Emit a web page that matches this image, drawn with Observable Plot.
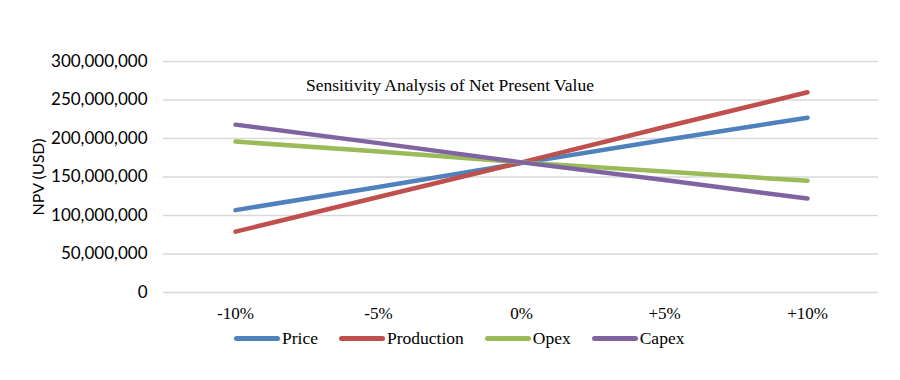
<!DOCTYPE html>
<html>
<head>
<meta charset="utf-8">
<script src="https://cdn.jsdelivr.net/npm/d3@7"></script>
<script src="https://cdn.jsdelivr.net/npm/@observablehq/plot@0.6"></script>
<style>
  body { margin: 0; background: #fff; }
  #wrap { position: relative; width: 900px; height: 380px; overflow: hidden; }
  #legend { position: absolute; top: 328px; left: 234px; display: flex; align-items: center;
            font-family: "Liberation Serif", serif; font-size: 17.5px; color: #000; }
  .item { display: flex; align-items: center; margin-right: 21px; }
  .sw { width: 46px; height: 5px; border-radius: 3px; margin-right: 2px; }
</style>
</head>
<body>
<div id="wrap"><div id="chart"></div><div id="legend"></div></div>
<script>
const categories = ["-10%", "-5%", "0%", "+5%", "+10%"];
const seriesNames = ["Price", "Production", "Opex", "Capex"];
const seriesColors = ["#4f81bd", "#c0504d", "#9bbb59", "#8064a2"];
const price = [107e6, 137e6, 168e6, 198e6, 227e6];
const production = [79e6, 124e6, 169e6, 215e6, 260e6];
const opex = [196e6, 183e6, 169e6, 157e6, 145e6];
const capex = [218e6, 194e6, 169e6, 146e6, 122e6];
const yTicks = [0, 50e6, 100e6, 150e6, 200e6, 250e6, 300e6];
const title = "Sensitivity Analysis of Net Present Value";
const yLabel = "NPV (USD)";

const allSeries = [price, production, opex, capex];
const data = [];
seriesNames.forEach((s, i) => categories.forEach((c, j) => data.push({series: s, cat: c, value: allSeries[i][j]})));

const chart = Plot.plot({
  width: 900,
  height: 380,
  marginLeft: 163,
  marginRight: 22,
  marginTop: 61,
  marginBottom: 88,
  style: {fontFamily: "Lato, sans-serif", color: "#000", background: "#fff"},
  x: {type: "point", domain: categories, padding: 0.5},
  y: {domain: [0, 300e6]},
  color: {domain: seriesNames, range: seriesColors},
  marks: [
    Plot.gridY(yTicks, {stroke: "#d9d9d9", strokeOpacity: 1, strokeWidth: 1.6}),
    Plot.axisY(yTicks, {tickSize: 0, tickPadding: 16, tickFormat: d3.format(","), fontSize: 17, fontFamily: "Lato, sans-serif", label: null}),
    Plot.axisX({tickSize: 0, tickPadding: 14, fontSize: 17, fontFamily: "Liberation Serif, serif", label: null}),
    Plot.line(data, {x: "cat", y: "value", stroke: "series", z: "series", strokeWidth: 4.5, strokeLinecap: "round"}),
    Plot.text([yLabel], {frameAnchor: "left", textAnchor: "middle", rotate: -90, dx: -125, fontSize: 16, fontFamily: "Lato, sans-serif"}),
    Plot.text([title], {frameAnchor: "top", dy: 17, dx: -71, fontSize: 17.5, fontFamily: "Liberation Serif, serif"})
  ]
});
document.getElementById("chart").appendChild(chart);

const legend = document.getElementById("legend");
seriesNames.forEach((s, i) => {
  const item = document.createElement("div");
  item.className = "item";
  const sw = document.createElement("div");
  sw.className = "sw";
  sw.style.background = seriesColors[i];
  const t = document.createElement("span");
  t.textContent = s;
  item.appendChild(sw);
  item.appendChild(t);
  legend.appendChild(item);
});
</script>
</body>
</html>
